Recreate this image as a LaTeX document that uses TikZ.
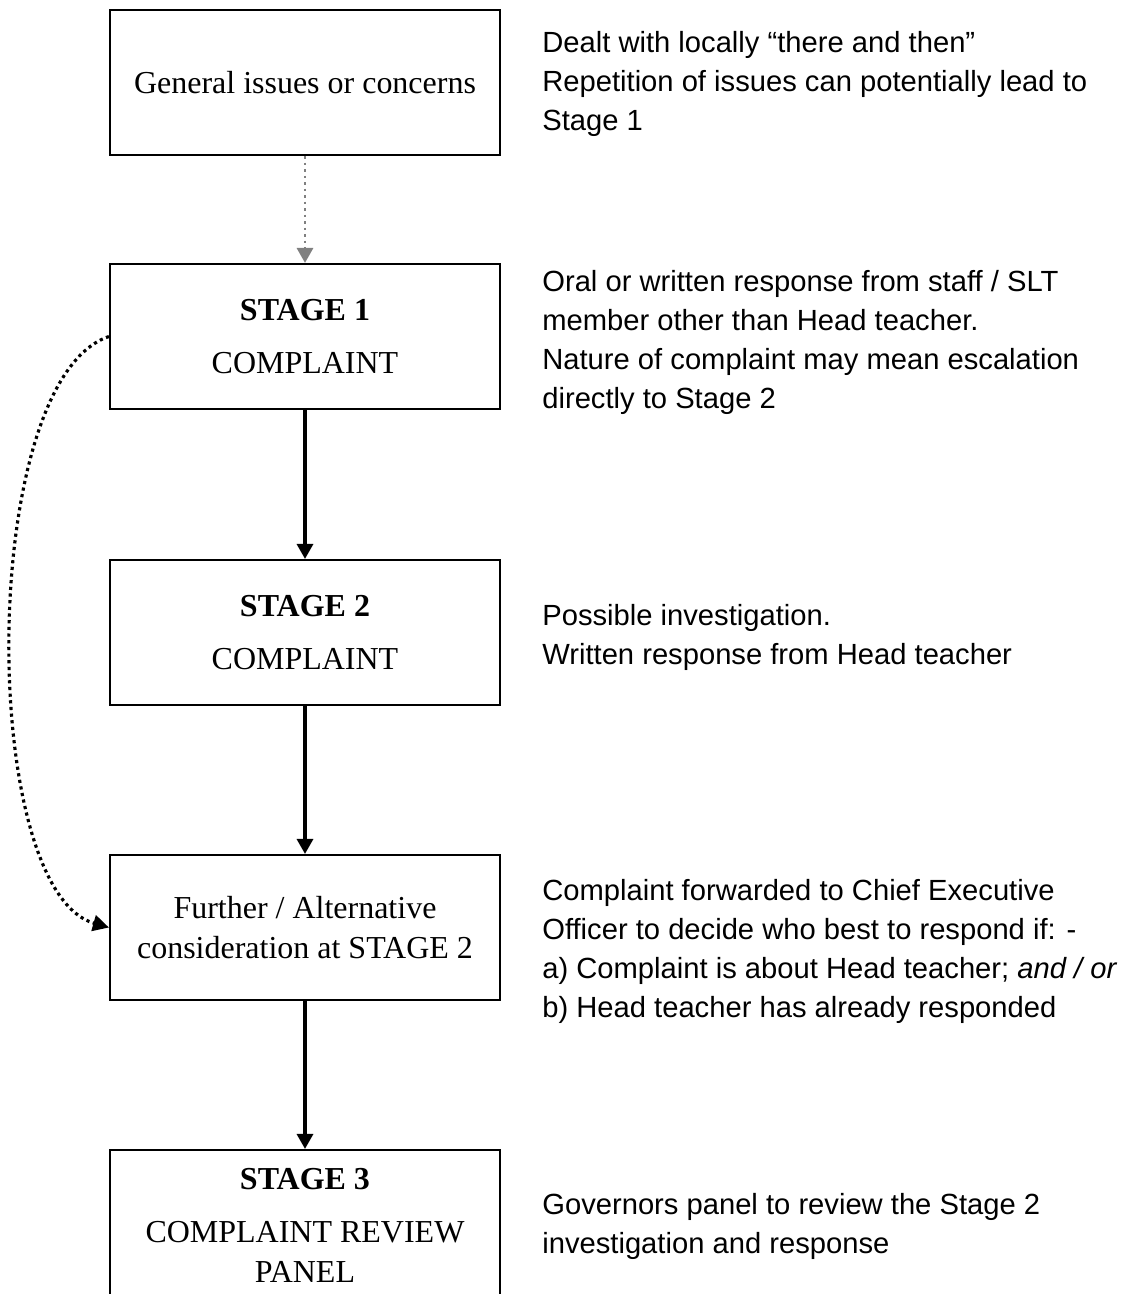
\documentclass[tikz,border=0pt]{standalone}
\usepackage{fontspec}
\setmainfont{Liberation Serif}
\setsansfont{Liberation Sans}
\usetikzlibrary{arrows.meta}

\tikzset{
  stagebox/.style={draw, line width=1.2pt, minimum width=7.8cm, minimum height=2.9cm,
    align=center, font=\fontsize{18.2}{22.5}\selectfont},
  note/.style={anchor=west, inner sep=0pt, align=left,
    font=\sffamily\fontsize{16.6}{22.2}\selectfont},
  flow/.style={line width=1.8pt, -{Triangle[length=0.3cm,width=0.32cm]}},
}

\begin{document}
\begin{tikzpicture}
  \useasboundingbox (0,0) rectangle (22.56,-25.88);

  % the five boxes
  \node[stagebox] (general) at (6.1,-1.65) {General issues or concerns};
  \node[stagebox] (stageone) at (6.1,-6.73) {\textbf{STAGE 1}\\[8pt]COMPLAINT};
  \node[stagebox] (stagetwo) at (6.1,-12.65) {\textbf{STAGE 2}\\[8pt]COMPLAINT};
  \node[stagebox] (further) at (6.1,-18.55) {Further / Alternative\\consideration at STAGE 2};
  \node[stagebox, minimum height=3cm] (stagethree) at (6.1,-24.5)
    {\textbf{STAGE 3}\\[8pt]COMPLAINT REVIEW\\PANEL};

  % notes on the right
  \node[note] (ngeneral) at (10.84,-1.67) {Dealt with locally “there and then”\\
    Repetition of issues can potentially lead to\\Stage 1};
  \node[note] (nstageone) at (10.84,-6.84) {Oral or written response from staff / SLT\\
    member other than Head teacher.\\Nature of complaint may mean escalation\\directly to Stage 2};
  \node[note] (nstagetwo) at (10.84,-12.75) {Possible investigation.\\Written response from Head teacher};
  \node[note] (nfurther) at (10.84,-19.03) {Complaint forwarded to Chief Executive\\
    Officer to decide who best to respond if: -\\
    a) Complaint is about Head teacher; \textit{and / or}\\
    b) Head teacher has already responded};
  \node[note] (nstagethree) at (10.84,-24.53) {Governors panel to review the Stage 2\\
    investigation and response};

  % connectors
  \draw[line width=1.7pt, gray, dash pattern=on 1.4pt off 2.3pt,
    -{Triangle[length=0.3cm,width=0.32cm]}] (general) -- (stageone);
  \draw[flow] (stageone) -- (stagetwo);
  \draw[flow] (stagetwo) -- (further);
  \draw[flow] (further) -- (stagethree);
  \draw[line width=1.8pt, dash pattern=on 1.8pt off 2pt,
    -{Triangle[length=0.32cm,width=0.32cm]}]
    (stageone.west) .. controls (-0.44,-7.6) and (-0.44,-17.8) .. (further.west);
\end{tikzpicture}
\end{document}
